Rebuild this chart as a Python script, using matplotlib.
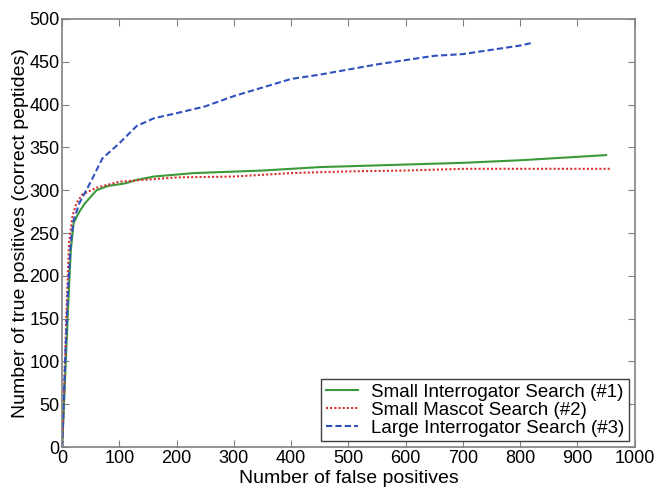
import matplotlib
matplotlib.use("Agg")
import matplotlib.pyplot as plt

plt.rcParams['font.family'] = ['Liberation Sans', 'DejaVu Sans']

# Small Interrogator Search (#1)
fp_1 = [0, 5, 10, 15, 20, 30, 40, 60, 80, 110, 130, 160, 230, 350, 450, 600, 700, 800, 950]
tp_1 = [0, 80, 160, 230, 262, 275, 285, 300, 305, 308, 312, 316, 320, 323, 327, 330, 332, 335, 341]

# Small Mascot Search (#2)
fp_2 = [0, 3, 8, 12, 18, 25, 35, 60, 100, 140, 200, 300, 400, 500, 600, 700, 960]
tp_2 = [0, 60, 170, 240, 270, 285, 295, 303, 310, 312, 315, 316, 320, 322, 323, 325, 325]

# Large Interrogator Search (#3)
fp_3 = [0, 5, 10, 15, 20, 30, 50, 70, 100, 130, 160, 200, 250, 300, 350, 400, 450, 500,
        550, 600, 650, 700, 750, 800, 820]
tp_3 = [0, 100, 180, 240, 265, 285, 310, 337, 355, 375, 384, 390, 398, 410, 420, 430, 435,
        441, 447, 452, 457, 459, 464, 469, 472]

fig = plt.figure(figsize=(6.55, 4.87), dpi=100)
ax = fig.add_axes([0.095, 0.082, 0.874, 0.879])

ax.plot(fp_1, tp_1, color='#3a9a3a', lw=1.5, ls='-', label='Small Interrogator Search (#1)')
ax.plot(fp_2, tp_2, color='#d83030', lw=1.5, ls=(0, (1, 1)), label='Small Mascot Search (#2)')
ax.plot(fp_3, tp_3, color='#3050c0', lw=1.5, ls=(0, (3, 1.5)), label='Large Interrogator Search (#3)')

ax.set_xlim(0, 1000)
ax.set_ylim(0, 500)
ax.set_xticks(range(0, 1001, 100))
ax.set_yticks(range(0, 501, 50))
ax.tick_params(direction='in', top=True, right=True, labelsize=13, length=5,
               color='#808080', pad=2)
for s in ax.spines.values():
    s.set_color('#808080')
    s.set_linewidth(1.2)

ax.set_xlabel('Number of false positives', fontsize=14, labelpad=2)
ax.set_ylabel('Number of true positives (correct peptides)', fontsize=14, labelpad=0)

leg = ax.legend(loc='lower right', fontsize=13.5, fancybox=False, framealpha=1,
                edgecolor='#404040', borderaxespad=0.3, handlelength=1.7,
                labelspacing=0.05, borderpad=0.25, handletextpad=0.7)
leg.get_frame().set_linewidth(1.0)

fig.savefig('out.png', dpi=100)
